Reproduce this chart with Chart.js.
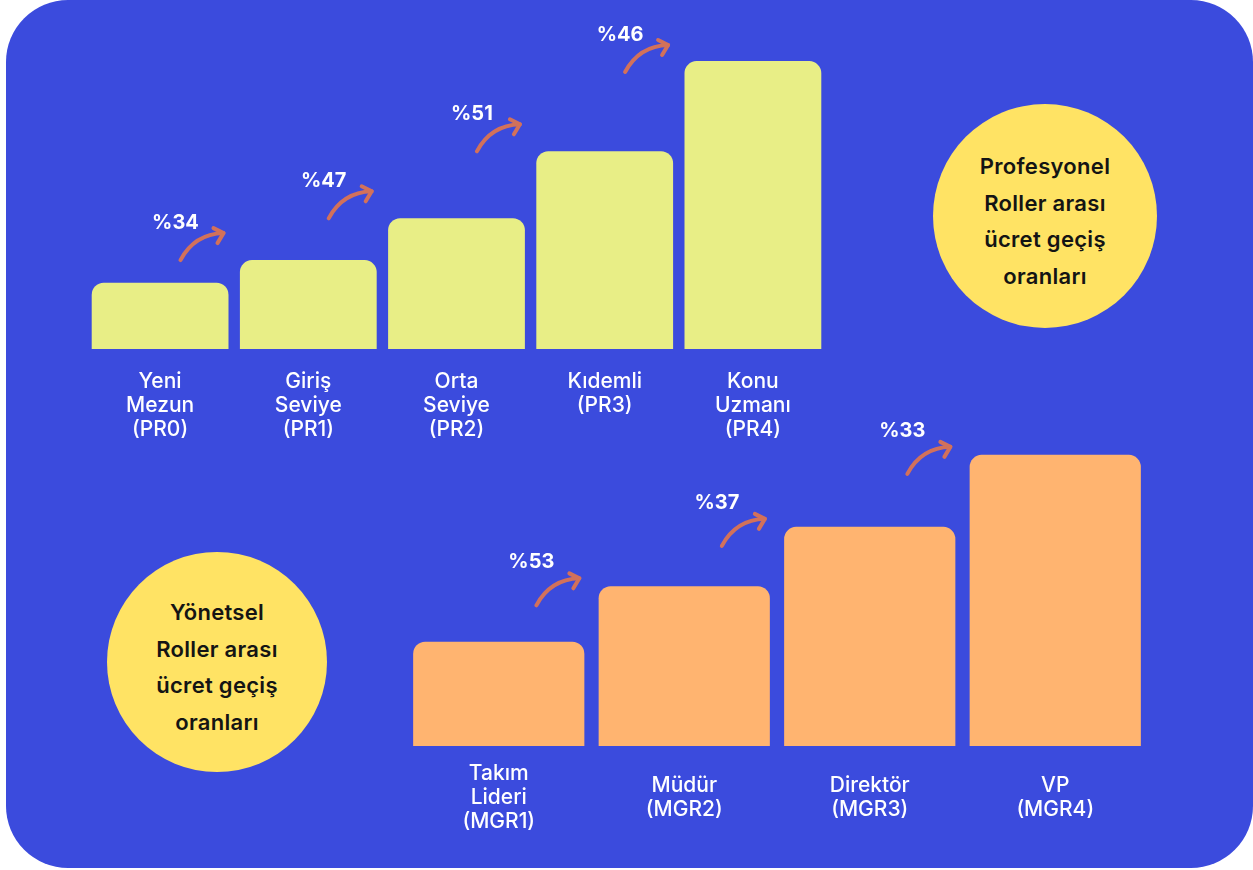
<!DOCTYPE html>
<html lang="tr">
<head>
<meta charset="utf-8">
<title>Roller arası ücret geçiş oranları</title>
<script src="https://cdn.jsdelivr.net/npm/chart.js@4.4.1/dist/chart.umd.min.js"></script>
<style>
  html, body { margin: 0; padding: 0; background: #fff; }
  body { width: 1253px; height: 870px; position: relative; overflow: hidden; font-family: Inter, "Noto Sans", sans-serif; }
  .panel { position: absolute; left: 6px; top: 0; width: 1247px; height: 868px; background: #3b4bdd; border-radius: 62px; }
  canvas { position: absolute; }
  #proChart { left: 0; top: 0; }
  #mgrChart { left: 0; top: 400px; }
  .badge {
    position: absolute; border-radius: 50%; background: #ffe364; color: #141414;
    font-weight: 600; font-size: 22px; letter-spacing: 0.3px; line-height: 36.5px; text-align: center;
    display: flex; align-items: center; justify-content: center; box-sizing: border-box; padding-top: 10px;
  }
  #proBadge { left: 933px; top: 104px; width: 224px; height: 224px; }
  #mgrBadge { left: 107px; top: 552px; width: 220px; height: 220px; }
</style>
</head>
<body>
<div class="panel"></div>
<canvas id="proChart" width="860" height="463"></canvas>
<canvas id="mgrChart" width="1253" height="474"></canvas>
<div class="badge" id="proBadge"><div>Profesyonel<br>Roller arası<br>ücret geçiş<br>oranları</div></div>
<div class="badge" id="mgrBadge"><div>Yönetsel<br>Roller arası<br>ücret geçiş<br>oranları</div></div>
<script>
// profesyonel roller
const proLabels = [
  ["Yeni", "Mezun", "(PR0)"],
  ["Giriş", "Seviye", "(PR1)"],
  ["Orta", "Seviye", "(PR2)"],
  ["Kıdemli", "(PR3)"],
  ["Konu", "Uzmanı", "(PR4)"],
];
const proValues = [100, 134, 197, 298, 434];
const proSteps = ["%34", "%47", "%51", "%46"];

// yönetsel roller
const mgrLabels = [
  ["Takım", "Lideri", "(MGR1)"],
  ["Müdür", "(MGR2)"],
  ["Direktör", "(MGR3)"],
  ["VP", "(MGR4)"],
];
const mgrValues = [100, 153, 210, 279];
const mgrSteps = ["%53", "%37", "%33"];

Chart.defaults.font.family = "Inter, 'Noto Sans', sans-serif";

// % text + curved arrow between two neighbour bars
const stepArrows = {
  id: "stepArrows",
  afterDatasetsDraw: (chart, args, opts) => {
    const bars = chart.getDatasetMeta(0).data;
    const ctx = chart.ctx;
    const top = chart.chartArea.top;
    ctx.save();
    opts.labels.forEach((txt, i) => {
      const cur = bars[i];
      const next = bars[i + 1];
      const right = cur.x + cur.width / 2;
      const cx = right - 53;
      const cy = Math.max(next.y - opts.lift, top + 15);
      ctx.fillStyle = "#ffffff";
      ctx.font = "700 20px Inter";
      ctx.textAlign = "center";
      ctx.textBaseline = "middle";
      ctx.fillText(txt, cx, cy);

      const sx = cx + 5;
      const sy = cy + opts.drop;
      const tx = cx + 48;
      const ty = sy - 27;
      ctx.strokeStyle = "#d2715b";
      ctx.lineWidth = 4;
      ctx.lineCap = "round";
      ctx.lineJoin = "round";
      ctx.beginPath();
      ctx.moveTo(sx, sy);
      ctx.quadraticCurveTo(sx + 14, ty + 1, tx, ty);
      ctx.stroke();
      ctx.beginPath();
      ctx.moveTo(tx - 10, ty - 5);
      ctx.lineTo(tx, ty);
      ctx.lineTo(tx - 6, ty + 10);
      ctx.stroke();
    });
    ctx.restore();
  },
};

const makeBarChart = (id, labels, values, steps, color, opt) => {
  const ctx = document.getElementById(id).getContext("2d");
  return new Chart(ctx, {
    type: "bar",
    data: {
      labels: labels,
      datasets: [
        {
          data: values,
          backgroundColor: color,
          borderWidth: 0,
          borderRadius: 12,
          barPercentage: 0.923,
          categoryPercentage: 1,
        },
      ],
    },
    plugins: [stepArrows],
    options: {
      responsive: false,
      animation: false,
      layout: { padding: opt.padding },
      plugins: {
        legend: { display: false },
        tooltip: { enabled: false },
        stepArrows: { labels: steps, lift: opt.lift, drop: opt.drop },
      },
      scales: {
        x: {
          grid: { display: false, drawTicks: false },
          border: { display: false },
          ticks: {
            color: "#ffffff",
            font: { size: 21, weight: "500", lineHeight: 1.143 },
            padding: opt.tickPad,
            crossAlign: opt.crossAlign,
            maxRotation: 0,
            autoSkip: false,
          },
        },
        y: { display: false, min: 0, max: opt.yMax },
      },
    },
  });
};

makeBarChart("proChart", proLabels, proValues, proSteps, "#e8ee86", {
  padding: { left: 86, right: 33, top: 20, bottom: 0 },
  yMax: 496,
  lift: 37,
  drop: 37,
  tickPad: 21,
  crossAlign: "near",
});

makeBarChart("mgrChart", mgrLabels, mgrValues, mgrSteps, "#ffb470", {
  padding: { left: 406, right: 105, top: 10, bottom: 0 },
  yMax: 322,
  lift: 24,
  drop: 43,
  tickPad: 28,
  crossAlign: "center",
});
</script>
</body>
</html>
